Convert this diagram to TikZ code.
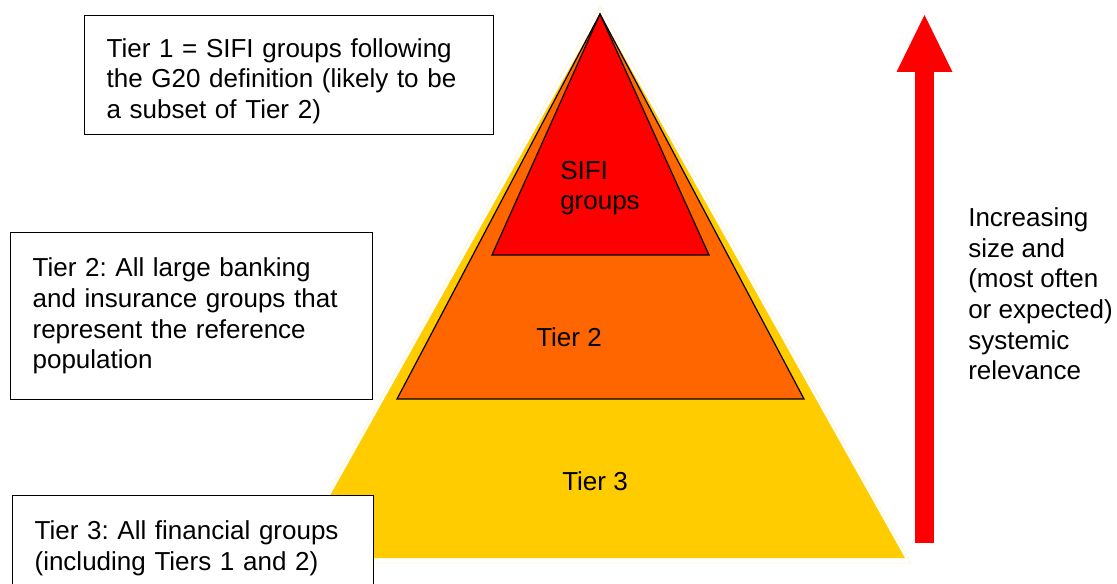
\documentclass[tikz,border=0pt]{standalone}
\usepackage{fontspec}
\setmainfont{Liberation Sans}
\frenchspacing
\definecolor{tieryellow}{RGB}{255,204,0}
\definecolor{tierorange}{RGB}{255,102,0}
\definecolor{tierred}{RGB}{255,0,0}
\definecolor{paleyellow}{RGB}{255,244,214}
\usetikzlibrary{arrows.meta,positioning}
\begin{document}
\begin{tikzpicture}[x=0.75pt, y=-0.75pt,
    font=\fontsize{19.5pt}{23pt}\selectfont,
    tierbox/.style={draw=black, line width=0.9pt, fill=white, anchor=north west,
      align=left, inner xsep=16.5pt, inner ysep=0pt},
    layer/.style={draw=black, line width=0.9pt, line join=miter}]
  \useasboundingbox (0,0) rectangle (1117,584);
  % pyramid
  \coordinate (apex) at (600,14);
  \draw[paleyellow, line width=0.6pt] (600,6) -- (289,563) -- (911,563) -- cycle;
  \fill[tieryellow] (apex) -- (295,558) -- (905,558) -- cycle;
  \filldraw[layer, fill=tierorange] (apex) -- (397,399) -- (804,399) -- cycle;
  \filldraw[layer, fill=tierred] (apex) -- (492,255) -- (709,255) -- cycle;
  \node[align=left] (sifi) at (600,188) {SIFI\\groups};
  \node (tiertwo) at (569,337) {Tier 2};
  \node (tierthree) at (595,481) {Tier 3};
  % explanation boxes
  \node[tierbox, text width=273.75pt, minimum height=89.25pt] (boxone) at (84,15)
    {\rule{0pt}{23pt}Tier 1 = SIFI groups following\\the G20 definition (likely to be\\a subset of Tier 2)};
  \node[tierbox, text width=238.5pt, minimum height=125.25pt] (boxtwo) at (10,232)
    {Tier 2: All large banking\\and insurance groups that\\represent the reference\\population};
  \node[tierbox, text width=237.75pt, minimum height=78.75pt] (boxthree) at (12,495)
    {Tier 3: All financial groups\\(including Tiers 1 and 2)};
  % arrow
  \coordinate (arrowfoot) at (924.5,543);
  \coordinate (arrowtip) at (924.5,15);
  \draw[tierred, line width=14.25pt,
    -{Triangle[length=42.75pt, width=42pt, line width=0pt]}] (arrowfoot) -- (arrowtip);
  \node[anchor=west, align=left, inner sep=0pt] (relevance) at (968,294)
    {Increasing\\size and\\(most often\\or expected)\\systemic\\relevance};
\end{tikzpicture}
\end{document}
